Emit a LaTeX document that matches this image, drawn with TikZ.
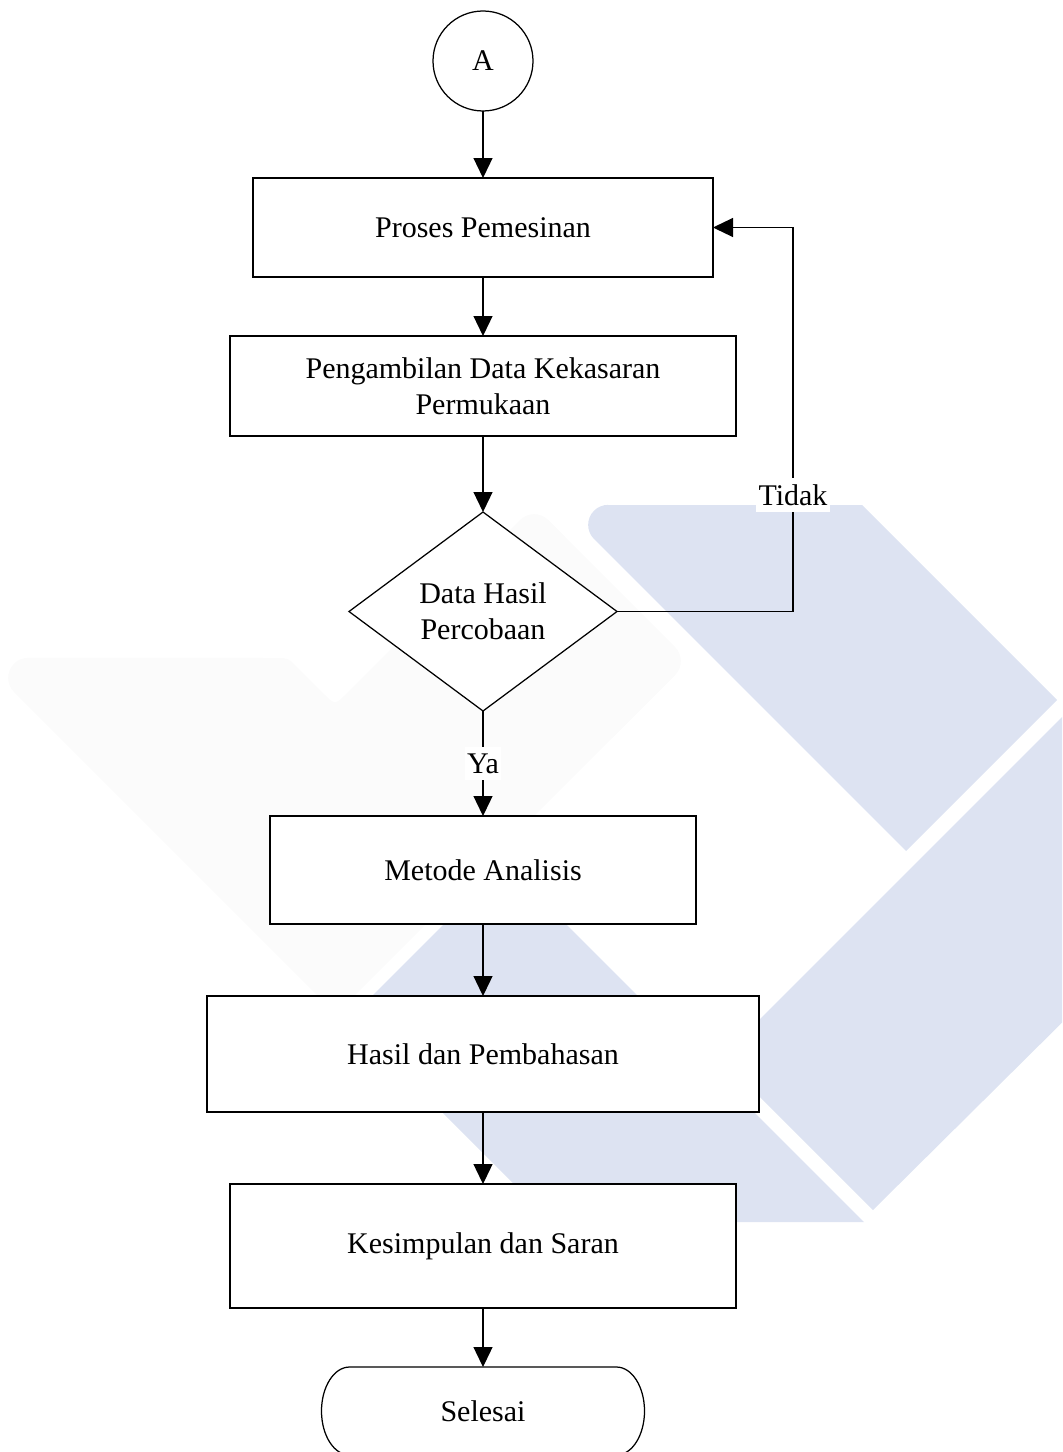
\documentclass[tikz,border=0pt]{standalone}
\usepackage{fontspec}
\setmainfont{Liberation Serif}
\usetikzlibrary{shapes,arrows.meta,positioning,calc}
\definecolor{wmblue}{RGB}{221,227,242}
\definecolor{wmgray}{RGB}{251,251,251}

\begin{document}
\begin{tikzpicture}[x=0.4pt, y=-0.4pt, font=\fontsize{12}{14.4}\selectfont,
    every node/.style={outer sep=0pt},
    box/.style={rectangle, draw, fill=white, align=center, inner sep=0pt, line width=0.5pt},
    arr/.style={-{Triangle[length=8pt, width=7.6pt]}, line width=0.5pt},
    lbl/.style={fill=white, inner xsep=1pt, inner ysep=2.5pt}]
    \useasboundingbox (0,0) rectangle (1062,1452);

    % Watermark
    \begin{scope}
        \clip (0,0) rectangle (1062,1452);
        \fill[wmgray] (14,692) arc[start angle=225, end angle=90, radius=8pt] -- (276,658) .. controls (288,658) .. (296,666)
            -- (324,694) .. controls (335,705) .. (346,694) -- (520,520) arc[start angle=135, end angle=45, radius=8pt]
            -- (675,647) arc[start angle=45, end angle=-45, radius=8pt] -- (336,1014) -- cycle;
        \fill[wmblue] (608,505) -- (862,505) -- (1057,700) -- (906,851) -- (594,539) arc[start angle=225, end angle=90, radius=8pt] -- cycle;
        \fill[wmblue] (721,1058) -- (1100,679) -- (1100,985) -- (873,1210) -- cycle;
        \fill[wmblue] (505,863) -- (864,1222) -- (552,1222) -- (349,1019) -- cycle;
    \end{scope}

    % Start connector
    \node[circle, draw, fill=white, line width=0.5pt, minimum size=40pt, inner sep=0pt] (a) at (483,61) {A};

    % Process steps
    \node[box, minimum width=184pt, minimum height=39.6pt, below=26.8pt of a] (proses) {Proses Pemesinan};
    \node[box, minimum width=202.4pt, minimum height=40pt, below=23.6pt of proses] (ambil) {Pengambilan Data Kekasaran\\Permukaan};

    % Decision
    \node[diamond, draw, fill=white, line width=0.5pt, aspect=1.35, minimum width=107.2pt, minimum height=79.6pt, inner sep=0pt, align=center, below=30.4pt of ambil] (cek) {Data Hasil\\Percobaan};

    % Analysis and results
    \node[box, minimum width=170.4pt, minimum height=43.2pt, below=42pt of cek] (metode) {Metode Analisis};
    \node[box, minimum width=220.8pt, minimum height=46.4pt, below=28.8pt of metode] (hasil) {Hasil dan Pembahasan};
    \node[box, minimum width=202.4pt, minimum height=49.6pt, below=28.8pt of hasil] (kes) {Kesimpulan dan Saran};

    % End
    \node[minimum width=129.2pt, minimum height=35.2pt, inner sep=0pt, below=23.6pt of kes] (selesai) {Selesai};
    \draw[line width=0.5pt] ([xshift=11.2pt]selesai.north west) -- ([xshift=-11.2pt]selesai.north east)
        arc[start angle=90, end angle=-90, x radius=11.2pt, y radius=17.6pt]
        -- ([xshift=11.2pt]selesai.south west)
        arc[start angle=270, end angle=90, x radius=11.2pt, y radius=17.6pt] -- cycle;

    % Arrows
    \draw[arr] (a) -- (proses);
    \draw[arr] (proses) -- (ambil);
    \draw[arr] (ambil) -- (cek);
    \draw[arr] (cek) -- node[lbl] {Ya} (metode);
    \draw[arr] (metode) -- (hasil);
    \draw[arr] (hasil) -- (kes);
    \draw[arr] (kes) -- (selesai);

    % Loop back
    \coordinate (balik) at ($(cek.east)+(176,0)$);
    \draw[arr] (cek.east) -- (balik) |- node[lbl, pos=0.152] {Tidak} (proses.east);
\end{tikzpicture}
\end{document}
